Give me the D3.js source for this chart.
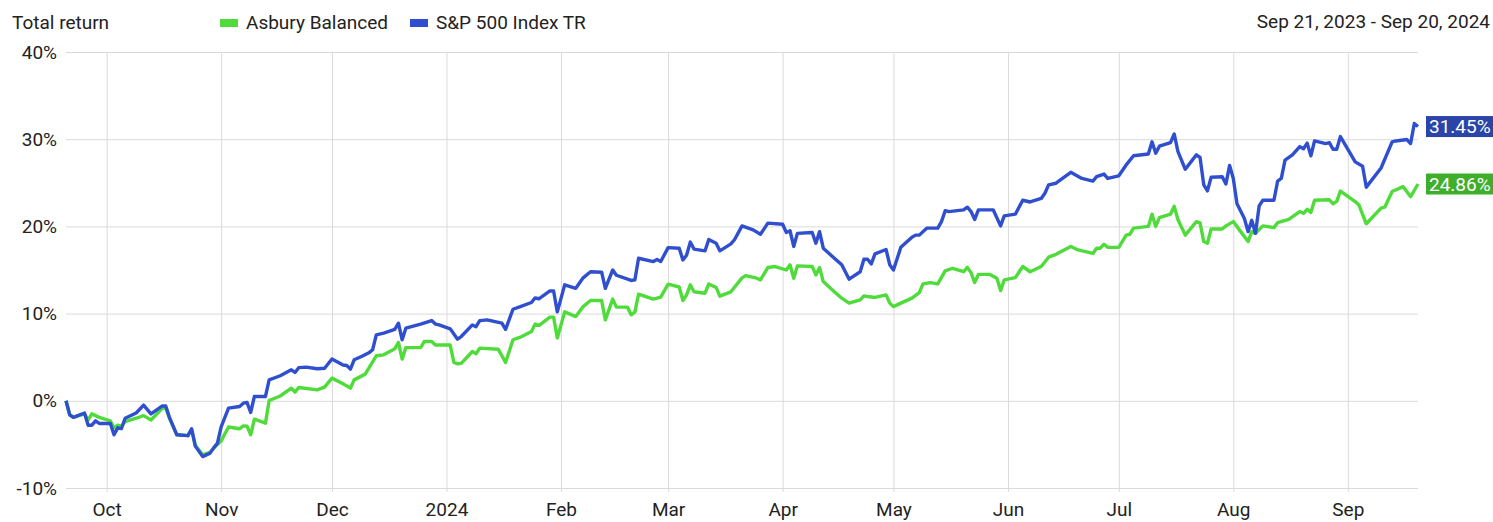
<!DOCTYPE html>
<html><head><meta charset="utf-8">
<script src="https://cdn.jsdelivr.net/npm/d3@7"></script>
<style>body{margin:0;background:#fff}svg{display:block;font-family:Roboto,"Noto Sans",sans-serif}</style>
</head><body><svg id="c" width="1493" height="522"></svg>
<script>
const titleText = "Total return";
const rangeText = "Sep 21, 2023 - Sep 20, 2024";
const seriesNames = ["Asbury Balanced", "S&P 500 Index TR"];
const yTicks = [-10, 0, 10, 20, 30, 40];
const xDomain = ["2023-09-20", "2024-09-20"];

const asburySeries = [
["2023-09-20",0],["2023-09-21",-1.6],["2023-09-22",-1.9],["2023-09-25",-1.5],["2023-09-26",-2.2],["2023-09-27",-1.5],
["2023-09-28",-1.7],["2023-09-29",-1.9],["2023-10-02",-2.3],["2023-10-03",-3.1],["2023-10-04",-2.8],["2023-10-05",-2.9],
["2023-10-06",-2.4],["2023-10-09",-2.0],["2023-10-11",-1.7],["2023-10-13",-2.2],["2023-10-16",-0.9],["2023-10-17",-0.8],
["2023-10-18",-2.0],["2023-10-20",-3.9],["2023-10-23",-4.0],["2023-10-24",-3.3],["2023-10-25",-5.1],["2023-10-27",-6.2],
["2023-10-29",-5.9],["2023-10-30",-5.4],["2023-10-31",-5.0],["2023-11-01",-4.6],["2023-11-03",-3.0],["2023-11-06",-3.2],
["2023-11-07",-2.87],["2023-11-08",-2.9],["2023-11-09",-3.9],["2023-11-10",-2.1],["2023-11-13",-2.56],["2023-11-14",0.03],
["2023-11-17",0.55],["2023-11-20",1.45],["2023-11-21",1.0],["2023-11-22",1.53],["2023-11-27",1.26],["2023-11-29",1.57],
["2023-12-01",2.6],["2023-12-04",1.95],["2023-12-06",1.45],["2023-12-07",2.4],["2023-12-10",3.06],["2023-12-13",5.16],
["2023-12-15",5.27],["2023-12-18",5.96],["2023-12-19",6.7],["2023-12-20",4.78],["2023-12-21",6.1],["2023-12-25",6.1],
["2023-12-26",6.8],["2023-12-28",6.8],["2023-12-29",6.4],["2024-01-02",6.4],["2024-01-03",4.4],["2024-01-04",4.24],
["2024-01-05",4.3],["2024-01-08",5.65],["2024-01-09",5.4],["2024-01-10",6.04],["2024-01-15",5.92],["2024-01-17",4.4],
["2024-01-19",7.0],["2024-01-21",7.3],["2024-01-24",7.94],["2024-01-25",8.8],["2024-01-26",8.63],["2024-01-29",9.6],
["2024-01-30",9.6],["2024-01-31",7.2],["2024-02-02",10.2],["2024-02-05",9.66],["2024-02-07",10.8],["2024-02-09",11.5],
["2024-02-12",11.5],["2024-02-13",9.28],["2024-02-15",11.66],["2024-02-16",10.74],["2024-02-19",10.74],["2024-02-20",9.86],
["2024-02-21",10.17],["2024-02-22",12.23],["2024-02-26",11.66],["2024-02-28",11.9],["2024-03-01",13.37],["2024-03-04",13.05],
["2024-03-05",11.5],["2024-03-06",12.15],["2024-03-07",13.3],["2024-03-08",12.5],["2024-03-11",12.34],["2024-03-12",13.4],
["2024-03-14",13.0],["2024-03-15",12.0],["2024-03-18",12.5],["2024-03-21",14.1],["2024-03-22",14.36],["2024-03-25",14.06],
["2024-03-26",13.87],["2024-03-28",15.28],["2024-03-30",15.4],["2024-04-02",15.0],["2024-04-03",15.6],["2024-04-04",14.06],
["2024-04-05",15.47],["2024-04-09",15.4],["2024-04-10",14.44],["2024-04-11",15.28],["2024-04-12",13.67],["2024-04-15",12.5],
["2024-04-17",11.77],["2024-04-19",11.2],["2024-04-22",11.58],["2024-04-23",12.03],["2024-04-24",11.96],["2024-04-26",11.85],
["2024-04-29",12.15],["2024-04-30",11.2],["2024-05-01",10.8],["2024-05-03",11.2],["2024-05-06",11.77],["2024-05-08",12.4],
["2024-05-09",13.4],["2024-05-11",13.56],["2024-05-13",13.4],["2024-05-15",14.9],["2024-05-17",15.2],["2024-05-20",14.8],
["2024-05-21",15.3],["2024-05-22",14.7],["2024-05-23",13.56],["2024-05-24",14.5],["2024-05-27",14.5],["2024-05-29",14.06],
["2024-05-30",12.64],["2024-05-31",13.87],["2024-06-03",14.13],["2024-06-05",15.4],["2024-06-07",14.8],["2024-06-10",15.4],
["2024-06-12",16.47],["2024-06-14",16.8],["2024-06-18",17.7],["2024-06-20",17.3],["2024-06-24",16.9],["2024-06-25",17.5],
["2024-06-26",17.5],["2024-06-27",17.96],["2024-06-28",17.6],["2024-07-01",17.6],["2024-07-03",19.0],["2024-07-04",19.1],
["2024-07-05",19.8],["2024-07-09",20.0],["2024-07-10",21.4],["2024-07-11",20.0],["2024-07-12",21.0],["2024-07-15",21.4],
["2024-07-16",22.3],["2024-07-17",20.8],["2024-07-19",19.0],["2024-07-22",20.55],["2024-07-23",20.4],["2024-07-24",18.26],
["2024-07-25",18.07],["2024-07-26",19.7],["2024-07-29",19.7],["2024-07-30",20.06],["2024-08-01",20.55],["2024-08-03",19.4],
["2024-08-05",18.26],["2024-08-06",19.4],["2024-08-07",19.2],["2024-08-09",20.06],["2024-08-12",19.86],["2024-08-13",20.43],
["2024-08-16",20.8],["2024-08-19",21.7],["2024-08-20",21.5],["2024-08-21",21.96],["2024-08-22",21.6],["2024-08-23",23.0],
["2024-08-27",23.05],["2024-08-28",22.6],["2024-08-29",22.87],["2024-08-30",24.05],["2024-09-03",22.85],["2024-09-04",22.46],
["2024-09-06",20.3],["2024-09-10",22.1],["2024-09-11",22.2],["2024-09-13",24.0],["2024-09-16",24.56],["2024-09-18",23.4],
["2024-09-20",24.86]
];

const spSeries = [
["2023-09-20",0],["2023-09-21",-1.6],["2023-09-22",-1.9],["2023-09-25",-1.4],["2023-09-26",-2.8],["2023-09-27",-2.8],
["2023-09-28",-2.3],["2023-09-29",-2.6],["2023-10-02",-2.6],["2023-10-03",-3.9],["2023-10-04",-3.1],["2023-10-05",-3.2],
["2023-10-06",-2.0],["2023-10-09",-1.4],["2023-10-11",-0.5],["2023-10-13",-1.5],["2023-10-16",-0.6],["2023-10-17",-0.6],
["2023-10-18",-1.9],["2023-10-20",-3.9],["2023-10-23",-4.0],["2023-10-24",-3.2],["2023-10-25",-5.2],["2023-10-27",-6.4],
["2023-10-29",-6.0],["2023-10-30",-5.4],["2023-10-31",-4.85],["2023-11-01",-3.0],["2023-11-03",-0.84],["2023-11-06",-0.65],
["2023-11-07",-0.27],["2023-11-08",-0.19],["2023-11-09",-1.34],["2023-11-10",0.5],["2023-11-13",0.5],["2023-11-14",2.4],
["2023-11-17",2.87],["2023-11-20",3.55],["2023-11-21",3.25],["2023-11-22",3.8],["2023-11-24",3.86],["2023-11-27",3.67],
["2023-11-29",3.74],["2023-12-01",4.8],["2023-12-04",4.1],["2023-12-05",4.05],["2023-12-06",3.63],["2023-12-07",4.7],
["2023-12-09",5.08],["2023-12-11",5.5],["2023-12-12",5.85],["2023-12-13",7.56],["2023-12-15",7.76],["2023-12-18",8.2],
["2023-12-19",8.9],["2023-12-20",7.0],["2023-12-21",8.33],["2023-12-25",8.8],["2023-12-28",9.2],["2023-12-29",8.8],
["2023-12-30",8.7],["2024-01-02",8.25],["2024-01-04",7.07],["2024-01-05",7.37],["2024-01-08",8.7],["2024-01-09",8.5],
["2024-01-10",9.2],["2024-01-12",9.28],["2024-01-16",8.9],["2024-01-17",8.2],["2024-01-19",10.5],["2024-01-21",10.8],
["2024-01-24",11.27],["2024-01-25",11.8],["2024-01-26",11.7],["2024-01-29",12.6],["2024-01-30",12.6],["2024-01-31",10.2],
["2024-02-02",13.3],["2024-02-05",12.9],["2024-02-07",14.1],["2024-02-09",14.8],["2024-02-12",14.75],["2024-02-13",12.9],
["2024-02-15",15.0],["2024-02-16",14.4],["2024-02-20",13.8],["2024-02-21",13.87],["2024-02-22",16.35],["2024-02-26",15.97],
["2024-02-27",16.2],["2024-02-28",15.97],["2024-03-01",17.57],["2024-03-04",17.5],["2024-03-05",16.16],["2024-03-06",16.7],
["2024-03-07",18.2],["2024-03-08",17.4],["2024-03-11",17.2],["2024-03-12",18.5],["2024-03-14",18.07],["2024-03-15",17.2],
["2024-03-18",18.0],["2024-03-19",18.5],["2024-03-21",20.06],["2024-03-24",19.6],["2024-03-26",19.1],["2024-03-28",20.37],
["2024-04-01",20.25],["2024-04-02",19.3],["2024-04-03",19.5],["2024-04-04",17.7],["2024-04-05",19.2],["2024-04-09",19.3],
["2024-04-10",18.07],["2024-04-11",19.4],["2024-04-12",17.5],["2024-04-15",16.35],["2024-04-17",15.6],["2024-04-19",13.95],
["2024-04-22",14.8],["2024-04-23",16.24],["2024-04-24",16.24],["2024-04-25",15.7],["2024-04-26",16.85],["2024-04-29",17.35],
["2024-04-30",15.6],["2024-05-01",15.0],["2024-05-03",17.6],["2024-05-06",18.76],["2024-05-07",19.0],["2024-05-08",19.0],
["2024-05-10",19.8],["2024-05-13",19.8],["2024-05-14",20.55],["2024-05-15",21.8],["2024-05-16",21.7],["2024-05-20",21.9],
["2024-05-21",22.2],["2024-05-22",21.7],["2024-05-23",20.8],["2024-05-24",21.9],["2024-05-28",21.9],["2024-05-30",20.06],
["2024-05-31",21.2],["2024-06-03",21.4],["2024-06-05",23.0],["2024-06-07",22.8],["2024-06-10",23.2],["2024-06-11",23.8],
["2024-06-12",24.76],["2024-06-14",24.95],["2024-06-18",26.2],["2024-06-21",25.5],["2024-06-24",25.2],["2024-06-25",25.7],
["2024-06-27",26.0],["2024-06-28",25.5],["2024-07-01",25.8],["2024-07-03",27.05],["2024-07-05",28.1],["2024-07-09",28.3],
["2024-07-10",29.7],["2024-07-11",28.4],["2024-07-12",29.2],["2024-07-15",29.6],["2024-07-16",30.6],["2024-07-17",28.6],
["2024-07-19",26.55],["2024-07-22",28.2],["2024-07-23",27.9],["2024-07-24",24.76],["2024-07-25",24.07],["2024-07-26",25.64],
["2024-07-29",25.7],["2024-07-30",24.87],["2024-07-31",27.0],["2024-08-01",25.5],["2024-08-02",22.6],["2024-08-04",20.9],
["2024-08-05",19.4],["2024-08-06",20.7],["2024-08-07",19.2],["2024-08-08",22.35],["2024-08-09",23.0],["2024-08-12",23.0],
["2024-08-13",25.2],["2024-08-14",25.5],["2024-08-15",27.6],["2024-08-17",28.2],["2024-08-19",29.15],["2024-08-20",28.9],
["2024-08-21",29.55],["2024-08-22",28.1],["2024-08-23",29.8],["2024-08-26",29.5],["2024-08-27",29.6],["2024-08-28",28.85],
["2024-08-29",28.85],["2024-08-30",30.3],["2024-09-03",27.4],["2024-09-05",26.9],["2024-09-06",24.5],["2024-09-10",26.7],
["2024-09-13",29.7],["2024-09-14",29.8],["2024-09-17",29.96],["2024-09-18",29.5],["2024-09-19",31.8],["2024-09-20",31.45]
];

const finalLabels = ["24.86%", "31.45%"];
const lineColors = ["#4fdc3b", "#2f4fcf"];
const boxColors = ["#3fae2b", "#2a44a8"];

const parse = d3.timeParse("%Y-%m-%d");
const svg = d3.select("#c");
const L = 66, R = 1418, T = 52, B = 488;
const FS = 19;
const x = d3.scaleTime().domain(xDomain.map(parse)).range([L, R]);
const y = d3.scaleLinear().domain([-10, 40]).range([B, T]);
const textColor = "#222";
const gridColor = "#dadada";

// y axis with gridlines
const yAxis = svg.append("g").attr("transform", `translate(${L},0)`)
  .call(d3.axisLeft(y).tickValues(yTicks).tickSize(-(R - L)).tickPadding(9).tickFormat(d => d + "%"));
yAxis.select(".domain").remove();
yAxis.selectAll("line").attr("stroke", gridColor);
yAxis.selectAll("text").attr("font-size", FS).attr("fill", textColor).attr("font-family", "Roboto");

// x axis with vertical gridlines
const xAxis = svg.append("g").attr("transform", `translate(0,${B + 4})`)
  .call(d3.axisBottom(x).ticks(d3.timeMonth.every(1)).tickSize(-(B + 4 - T)).tickPadding(11)
    .tickFormat(d => d.getMonth() === 0 ? d3.timeFormat("%Y")(d) : d3.timeFormat("%b")(d)));
xAxis.select(".domain").remove();
xAxis.selectAll("line").attr("stroke", gridColor);
xAxis.selectAll("text").attr("font-size", FS).attr("fill", textColor).attr("font-family", "Roboto");

// lines
const line = d3.line().x(d => x(parse(d[0]))).y(d => y(d[1]));
[asburySeries, spSeries].forEach((s, i) => {
  svg.append("path").datum(s).attr("d", line).attr("fill", "none")
    .attr("stroke", lineColors[i]).attr("stroke-width", 3.4).attr("stroke-linejoin", "round");
});

// end labels
[asburySeries, spSeries].forEach((s, i) => {
  const last = s[s.length - 1];
  const cy = y(last[1]);
  svg.append("rect").attr("x", 1426).attr("y", cy - 10.5).attr("width", 68).attr("height", 21).attr("fill", boxColors[i]);
  svg.append("text").attr("x", 1429).attr("y", cy).attr("dy", "0.36em").attr("font-size", FS)
    .attr("fill", "#fff").text(finalLabels[i]);
});

// header
svg.append("text").attr("x", 12).attr("y", 29).attr("font-size", FS).attr("fill", textColor).text(titleText);
svg.append("text").attr("x", 1490).attr("y", 28).attr("text-anchor", "end").attr("font-size", FS).attr("fill", textColor).text(rangeText);
const legendX = [220, 410];
seriesNames.forEach((n, i) => {
  svg.append("rect").attr("x", legendX[i]).attr("y", 19).attr("width", 18).attr("height", 8).attr("fill", lineColors[i]);
  svg.append("text").attr("x", legendX[i] + 26).attr("y", 29).attr("font-size", FS).attr("fill", textColor).text(n);
});
</script></body></html>
